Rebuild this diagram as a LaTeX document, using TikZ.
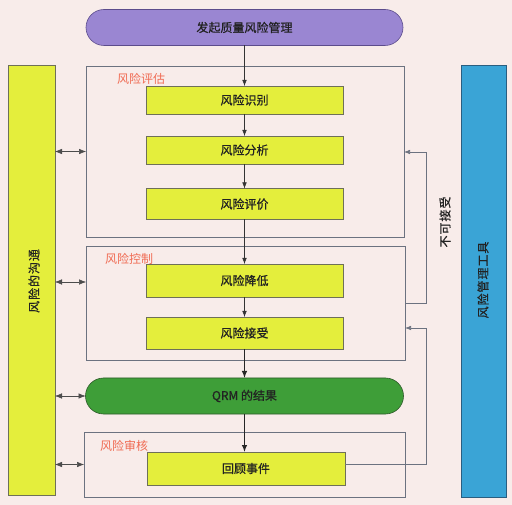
\documentclass[tikz,border=0pt]{standalone}
\usepackage{fontspec}
\setmainfont{Noto Sans CJK SC}
\newfontfamily\cjkm{Noto Sans CJK SC}[FakeBold=0.8]
\newfontfamily\cjksp{Noto Sans CJK SC}[FakeBold=0.5,LetterSpace=8]
\usetikzlibrary{arrows.meta}
\definecolor{bgc}{HTML}{F8ECEA}
\definecolor{purp}{HTML}{9A86D2}
\definecolor{purpd}{HTML}{5C4C8C}
\definecolor{ylw}{HTML}{E4EE3C}
\definecolor{ylwd}{HTML}{6E7058}
\definecolor{grn}{HTML}{3E9E38}
\definecolor{grnd}{HTML}{2E5A2A}
\definecolor{blu}{HTML}{3AA4D6}
\definecolor{blud}{HTML}{2A5E80}
\definecolor{frm}{HTML}{6C7280}
\definecolor{redl}{HTML}{F06A52}
\definecolor{txt}{HTML}{222222}
\tikzset{
  every node/.style={inner sep=0pt, outer sep=0pt, text=txt, font=\cjkm\fontsize{12}{14}\selectfont},
  stepbox/.style={draw=ylwd, fill=ylw, line width=0.6pt, minimum width=197pt, minimum height=28pt},
  frame/.style={draw=frm, line width=0.6pt},
  pill/.style={rounded corners=18pt, line width=0.6pt, minimum width=318pt, minimum height=36pt},
  sidebar/.style={line width=0.6pt},
  vtext/.style={rotate=90, font=\cjksp\fontsize{12}{14}\selectfont},
  grouplab/.style={text=redl, anchor=west, font=\rmfamily\fontsize{12}{14}\selectfont},
  flow/.style={draw=black!80, line width=0.5pt, -{Latex[length=6pt,width=4.5pt]}},
  bigflow/.style={draw=black!85, line width=1.1pt, -{Latex[length=7pt,width=5.5pt]}},
  fb/.style={draw=frm, line width=0.6pt, -{Latex[length=6pt,width=4.5pt]}},
  twoway/.style={draw=black!70, line width=0.5pt, {Latex[length=7pt,width=5.5pt]}-{Latex[length=7pt,width=5.5pt]}},
}
\begin{document}
\begin{tikzpicture}[x=1pt,y=-1pt]
\fill[bgc] (0,0) rectangle (512,505);
\useasboundingbox (0,0) rectangle (512,505);

% side bars
\node[sidebar, draw=ylwd, fill=ylw, minimum width=47pt, minimum height=430pt] (comm) at (31.5,280) {};
\node[vtext] (commt) at (34,281) {风险的沟通};
\node[sidebar, draw=blud, fill=blu, minimum width=45pt, minimum height=432pt] (tools) at (483.5,281) {};
\node[vtext] (toolst) at (483,280) {风险管理工具};

% group frames
\node[frame, minimum width=318pt, minimum height=171pt] (box1) at (245,151.5) {};
\node[grouplab] (lab1) at (117,79) {风险评估};
\node[frame, minimum width=319pt, minimum height=114pt] (box2) at (245.5,303) {};
\node[grouplab] (lab2) at (105,259) {风险控制};
\node[frame, minimum width=321pt, minimum height=65pt] (box3) at (244.5,464.5) {};
\node[grouplab] (lab3) at (100,446) {风险审核};

% main flow
\node[pill, draw=purpd, fill=purp, minimum width=317pt] (start) at (244.5,27.5) {发起质量风险管理};
\node[stepbox] (id) at (244.5,100) {风险识别};
\node[stepbox] (an) at (244.5,150) {风险分析};
\node[stepbox, minimum height=31pt] (ev) at (244.5,204) {风险评价};
\node[stepbox, minimum height=33pt] (red) at (244.5,280.5) {风险降低};
\node[stepbox, minimum height=32pt] (acc) at (244.5,333) {风险接受};
\node[pill, draw=grnd, fill=grn] (qrm) at (244.5,396) {QRM 的结果};
\node[stepbox, minimum width=198pt, minimum height=33pt] (rev) at (246,468.5) {回顾事件};

\draw[flow] (start) -- (id);
\draw[flow] (id) -- (an);
\draw[flow] (an) -- (ev);
\draw[flow] (ev) -- (red);
\draw[flow] (red) -- (acc);
\draw[bigflow] (acc) -- (qrm);
\draw[bigflow] (qrm.south) -- (qrm.south |- rev.north);

% feedback loops
\coordinate (na1) at (426,303);
\coordinate (na2) at (426,152);
\draw[fb] (na1 -| box2.east) -- (na1) -- (na2) -- (na2 -| box1.east);
\node[vtext] (nacc) at (445,222) {不可接受};
\coordinate (nb1) at (426,464);
\coordinate (nb2) at (426,328);
\draw[fb] (nb1 -| rev.east) -- (nb1) -- (nb2) -- (nb2 -| box2.east);

% communication arrows
\coordinate (c2) at (0,282);
\draw[twoway] (comm.east |- box1.west) -- (box1.west);
\draw[twoway] (comm.east |- c2) -- (box2.west |- c2);
\draw[twoway] (comm.east |- qrm.west) -- (qrm.west);
\draw[twoway] (comm.east |- box3.west) -- (box3.west);
\end{tikzpicture}
\end{document}
